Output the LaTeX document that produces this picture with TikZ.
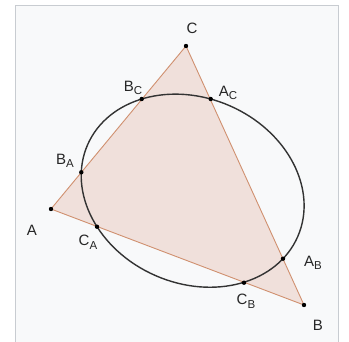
\documentclass[tikz,border=0pt]{standalone}
\usepackage{fontspec}
\setmainfont{Liberation Sans}
\definecolor{framecol}{HTML}{C8CCD1}
\definecolor{innerbg}{HTML}{F8F9FA}
\definecolor{trifill}{HTML}{F0E0DB}
\definecolor{tristroke}{HTML}{D0906F}
\definecolor{ellcol}{HTML}{333333}
\newcommand{\lblsub}[1]{\raisebox{-0.45ex}{\fontsize{11.5}{11.5}\selectfont #1}}
\begin{document}
\begin{tikzpicture}[x=1pt,y=-1pt,
  lbl/.style={inner sep=0pt,font=\fontsize{15}{15}\selectfont,text=black!85},
  dot/.style={circle,fill=black,inner sep=0pt,minimum size=4.4pt}]
\useasboundingbox (0,0) rectangle (349,341);
\fill[white] (0,0) rectangle (349,341);
\fill[innerbg] (15,5) rectangle (338,345);
\draw[framecol,line width=1pt] (15,345) -- (15,5) -- (338,5) -- (338,345);
% vertices
\coordinate (A) at (51,209);
\coordinate (B) at (304,305);
\coordinate (C) at (186,46);
\coordinate (O) at (192.66,190.69);
\draw[fill=trifill,draw=tristroke,line width=0.9pt,line join=round] (A) -- (B) -- (C) -- cycle;
\draw[ellcol,line width=1.4pt,rotate around={-23.6:(O)}] (O) ellipse [x radius=114.67, y radius=92.68];
% intersection points
\node[dot] (BC) at (141.7,99) {};
\node[dot] (AC) at (210.7,99) {};
\node[dot] (BA) at (81.3,172.3) {};
\node[dot] (CA) at (97,226.7) {};
\node[dot] (AB) at (283,258.7) {};
\node[dot] (CB) at (244,282.7) {};
\node[dot] (Ad) at (A) {};
\node[dot] (Bd) at (B) {};
\node[dot] (Cd) at (C) {};
% labels
\node[lbl] (lC) at (192,28) {C};
\node[lbl] (lA) at (32,230) {A};
\node[lbl] (lB) at (318,325) {B};
\node[lbl] (lBC) at (133,88) {B\lblsub{C}};
\node[lbl] (lAC) at (228,93) {A\lblsub{C}};
\node[lbl] (lBA) at (65,161) {B\lblsub{A}};
\node[lbl] (lCA) at (88,242) {C\lblsub{A}};
\node[lbl] (lAB) at (313,263) {A\lblsub{B}};
\node[lbl] (lCB) at (246,301) {C\lblsub{B}};
\end{tikzpicture}
\end{document}
